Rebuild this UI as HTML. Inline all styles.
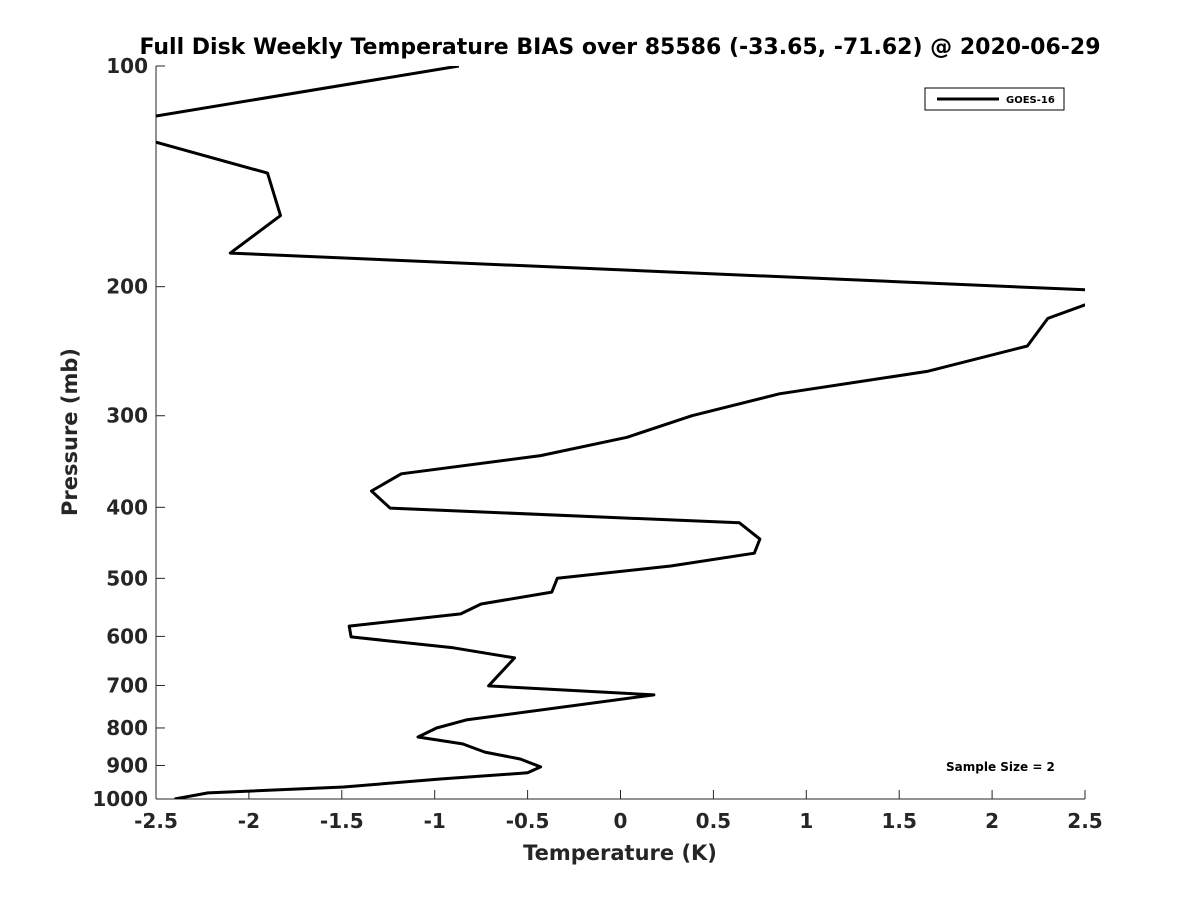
<!DOCTYPE html>
<html><head><meta charset="utf-8"><style>
body{margin:0;background:#fff}
text{font-family:"DejaVu Sans","Liberation Sans",sans-serif;font-weight:bold;fill:#262626}
</style></head><body>
<svg id="chart" width="1200" height="900" xmlns="http://www.w3.org/2000/svg">
<defs><clipPath id="clip"><rect x="156" y="66" width="929" height="733"/></clipPath></defs>
<text x="620" y="54" text-anchor="middle" font-size="22" style="fill:#000">Full Disk Weekly Temperature BIAS over 85586 (-33.65, -71.62) @ 2020-06-29</text>
<g id="axes"></g>
<path id="series" clip-path="url(#clip)" fill="none" stroke="#000" stroke-width="3" stroke-linejoin="round"/>
<text x="620" y="860" text-anchor="middle" font-size="21">Temperature (K)</text>
<text transform="translate(77,432) rotate(-90)" text-anchor="middle" font-size="21">Pressure (mb)</text>
<g>
<rect x="925" y="88" width="139" height="22" fill="#fff" stroke="#000" stroke-width="1"/>
<line x1="937" y1="99" x2="999" y2="99" stroke="#000" stroke-width="3"/>
<text x="1006" y="103" font-size="10" style="fill:#000">GOES-16</text>
</g>
<text x="946" y="771" font-size="12" style="fill:#000">Sample Size = 2</text>
</svg>
<script>
const pressures=[100,117,121,140,160,180,203,221,241,261,280,300,321,340,360,380,401,420,442,462,481,500,522,542,559,581,601,622,642,679,701,721,780,800,823,841,863,882,904,921,939,963,981,1000];
const temps=[-0.87,-2.5,-2.8,-1.90,-1.83,-2.10,2.7,2.30,2.19,1.65,0.855,0.385,0.035,-0.43,-1.18,-1.34,-1.24,0.64,0.75,0.72,0.27,-0.34,-0.37,-0.75,-0.86,-1.46,-1.45,-0.90,-0.57,-0.66,-0.71,0.18,-0.83,-0.99,-1.09,-0.85,-0.73,-0.54,-0.43,-0.50,-0.97,-1.49,-2.22,-2.40];
const xTicks=[-2.5,-2,-1.5,-1,-0.5,0,0.5,1,1.5,2,2.5];
const yTicks=[100,200,300,400,500,600,700,800,900,1000];
const L=156,R=1085,T=66,B=799;
const xs=v=>L+(v+2.5)/5*(R-L);
const ys=p=>T+Math.log10(p/100)*(B-T);
const ns='http://www.w3.org/2000/svg';
const ax=document.getElementById('axes');
function mk(tag,attrs,parent){const e=document.createElementNS(ns,tag);for(const k in attrs)e.setAttribute(k,attrs[k]);parent.appendChild(e);return e;}
mk('line',{x1:L,y1:T,x2:L,y2:B,stroke:'#262626','stroke-width':1},ax);
mk('line',{x1:L,y1:B,x2:R,y2:B,stroke:'#262626','stroke-width':1},ax);
xTicks.forEach(v=>{const x=xs(v);
 const t=mk('line',{x1:x,y1:B,x2:x,y2:B-9,stroke:'#262626'},ax);
 
 
 const l=mk('text',{x:x,y:B+29,'text-anchor':'middle','font-size':20},ax);l.textContent=v;
 
 });
yTicks.forEach(p=>{const y=ys(p);
 const t=mk('line',{x1:L,y1:y,x2:L+9,y2:y,stroke:'#262626'},ax);
 
 
 const l=mk('text',{x:L-8,y:y+7,'text-anchor':'end','font-size':20},ax);l.textContent=p;
 
 });
document.getElementById('series').setAttribute('d',pressures.map((p,i)=>(i?'L':'M')+xs(temps[i]).toFixed(1)+','+ys(p).toFixed(1)).join(''));
</script>
</body></html>
